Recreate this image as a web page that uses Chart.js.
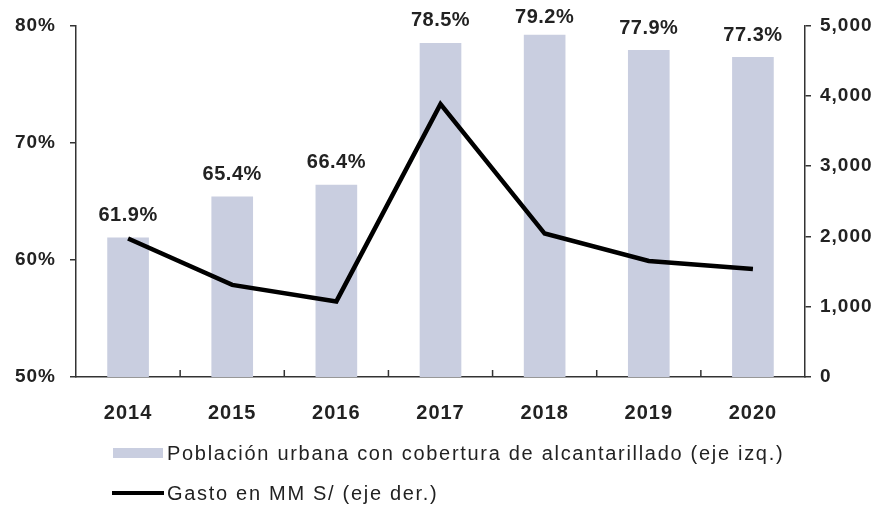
<!DOCTYPE html>
<html>
<head>
<meta charset="utf-8">
<script src="https://cdn.jsdelivr.net/npm/chart.js@4/dist/chart.umd.min.js"></script>
<style>
  html, body { margin: 0; padding: 0; background: #fff; }
  #wrap { width: 885px; height: 506px; position: relative; }
</style>
</head>
<body>
<div id="wrap"><canvas id="c" width="885" height="506"></canvas></div>
<script>
const years = ['2014', '2015', '2016', '2017', '2018', '2019', '2020'];
const coverage = [61.9, 65.4, 66.4, 78.5, 79.2, 77.9, 77.3];
const spending = [1970, 1310, 1075, 3880, 2040, 1650, 1535];
const coverageLabel = 'Población urbana con cobertura de alcantarillado (eje izq.)';
const spendingLabel = 'Gasto en MM S/ (eje der.)';

const BAR_COLOR = '#c9cee0';
const INK = '#222';
const FONT = 'Arial, "Liberation Sans", sans-serif';

// slightly wider tracking, like the scanned original
const tracking = {
    id: 'tracking',
    beforeDraw(chart) { chart.ctx.letterSpacing = '1px'; }
};

// value labels above the bars
const barLabels = {
    id: 'barLabels',
    afterDatasetsDraw(chart) {
        const ctx = chart.ctx;
        const meta = chart.getDatasetMeta(0);
        ctx.save();
        ctx.letterSpacing = '0.5px';
        ctx.font = 'bold 20px ' + FONT;
        ctx.fillStyle = INK;
        ctx.textAlign = 'center';
        ctx.textBaseline = 'middle';
        meta.data.forEach((bar, i) => {
            const y = Math.max(bar.y - 22, 17);
            ctx.fillText(coverage[i].toFixed(1) + '%', bar.x, y);
        });
        ctx.restore();
    }
};

// small tick marks between categories, pointing up into the plot
const catTicks = {
    id: 'catTicks',
    afterDraw(chart) {
        const ctx = chart.ctx;
        const x = chart.scales.x;
        const bottom = chart.chartArea.bottom;
        ctx.save();
        ctx.strokeStyle = '#333';
        ctx.lineWidth = 1.5;
        for (let i = 1; i < years.length; i++) {
            const px = (x.getPixelForValue(i - 1) + x.getPixelForValue(i)) / 2;
            ctx.beginPath();
            ctx.moveTo(px, bottom);
            ctx.lineTo(px, bottom - 7);
            ctx.stroke();
        }
        ctx.restore();
    }
};

// two-row legend under the axis
const legendRows = {
    id: 'legendRows',
    afterDraw(chart) {
        const ctx = chart.ctx;
        ctx.save();
        ctx.letterSpacing = '1.7px';
        ctx.font = '20px ' + FONT;
        ctx.textAlign = 'left';
        ctx.textBaseline = 'middle';
        // bars
        ctx.fillStyle = BAR_COLOR;
        ctx.fillRect(113, 448, 50, 10);
        ctx.fillStyle = INK;
        ctx.fillText(chart.data.datasets[0].label, 167, 454);
        // line
        ctx.strokeStyle = '#000';
        ctx.lineWidth = 4;
        ctx.beginPath();
        ctx.moveTo(112, 493);
        ctx.lineTo(164, 493);
        ctx.stroke();
        ctx.fillText(chart.data.datasets[1].label, 167, 494);
        ctx.restore();
    }
};

new Chart(document.getElementById('c'), {
    data: {
        labels: years,
        datasets: [
            {
                type: 'bar',
                label: coverageLabel,
                data: coverage,
                backgroundColor: BAR_COLOR,
                yAxisID: 'y',
                barPercentage: 0.4,
                categoryPercentage: 1,
                order: 2
            },
            {
                type: 'line',
                label: spendingLabel,
                data: spending,
                borderColor: '#000',
                borderWidth: 4.5,
                pointRadius: 0,
                tension: 0,
                fill: false,
                yAxisID: 'y1',
                order: 1
            }
        ]
    },
    options: {
        responsive: false,
        animation: false,
        layout: { padding: { top: 22, left: 0, right: 0, bottom: 0 } },
        plugins: { legend: { display: false }, tooltip: { enabled: false } },
        scales: {
            x: {
                grid: { display: false },
                border: { display: true, color: '#333', width: 1.5 },
                ticks: { color: INK, font: { family: FONT, size: 20, weight: 'bold' }, padding: 16 },
                afterFit: s => { s.height = 129; }
            },
            y: {
                position: 'left',
                min: 50, max: 80,
                ticks: { stepSize: 10, color: INK, padding: 14, font: { family: FONT, size: 19, weight: 'bold' }, callback: v => v + '%' },
                grid: { drawOnChartArea: false, tickLength: 6, color: '#333', lineWidth: 1.5 },
                border: { display: true, color: '#333', width: 1.5 },
                afterFit: s => { s.width = 76; }
            },
            y1: {
                position: 'right',
                min: 0, max: 5000,
                ticks: { stepSize: 1000, color: INK, padding: 9, font: { family: FONT, size: 19, weight: 'bold' }, callback: v => v.toLocaleString('en-US') },
                grid: { drawOnChartArea: false, tickLength: 6, color: '#333', lineWidth: 1.5 },
                border: { display: true, color: '#333', width: 1.5 },
                afterFit: s => { s.width = 80; }
            }
        }
    },
    plugins: [tracking, barLabels, catTicks, legendRows]
});
</script>
</body>
</html>
